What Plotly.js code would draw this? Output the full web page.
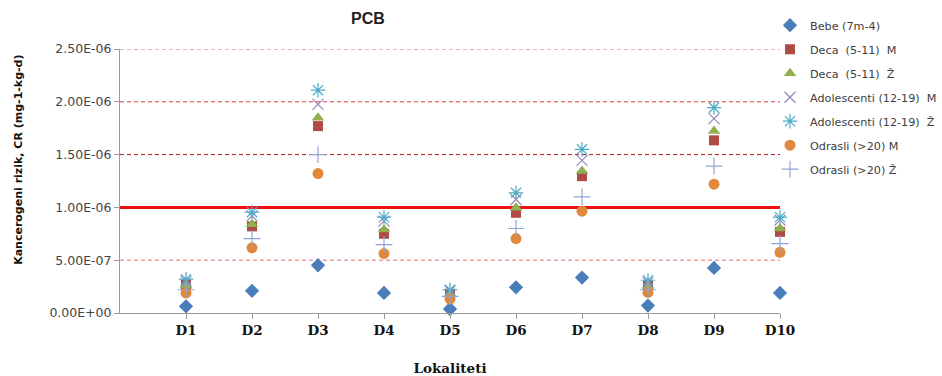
<!DOCTYPE html>
<html>
<head>
<meta charset="utf-8">
<script src="https://cdn.plot.ly/plotly-3.0.1.min.js"></script>
<style>html,body{margin:0;padding:0;background:#fff}#chart{width:942px;height:376px}</style>
</head>
<body>
<div id="chart"></div>
<script>
const positions = [1,2,3,4,5,6,7,8,9,10];
const locations = ["D1","D2","D3","D4","D5","D6","D7","D8","D9","D10"];
const bebe      = [0.063e-6,0.21e-6,0.452e-6,0.19e-6,0.038e-6,0.243e-6,0.335e-6,0.07e-6,0.427e-6,0.19e-6];
const decaM     = [0.27e-6,0.82e-6,1.77e-6,0.75e-6,0.183e-6,0.949e-6,1.296e-6,0.26e-6,1.635e-6,0.768e-6];
const decaZ     = [0.26e-6,0.84e-6,1.85e-6,0.79e-6,0.18e-6,0.996e-6,1.344e-6,0.25e-6,1.723e-6,0.80e-6];
const adolM     = [0.30e-6,0.92e-6,1.976e-6,0.87e-6,0.21e-6,1.075e-6,1.445e-6,0.29e-6,1.84e-6,0.88e-6];
const adolZ     = [0.32e-6,0.955e-6,2.11e-6,0.907e-6,0.221e-6,1.138e-6,1.55e-6,0.31e-6,1.945e-6,0.907e-6];
const odrM      = [0.19e-6,0.617e-6,1.32e-6,0.563e-6,0.133e-6,0.705e-6,0.964e-6,0.195e-6,1.22e-6,0.575e-6];
const odrZ      = [0.22e-6,0.705e-6,1.50e-6,0.648e-6,0.158e-6,0.80e-6,1.10e-6,0.22e-6,1.39e-6,0.657e-6];
const seriesNames = ["Bebe (7m-4)","Deca  (5-11)  M","Deca  (5-11)  Ž","Adolescenti (12-19)  M","Adolescenti (12-19)  Ž","Odrasli (>20) M","Odrasli (>20) Ž"];
const yTickVals = [0,0.5e-6,1.0e-6,1.5e-6,2.0e-6,2.5e-6];
const yTickText = ["0.00E+00","5.00E-07","1.00E-06","1.50E-06","2.00E-06","2.50E-06"];
const dashedLevels = [0.5e-6,1.5e-6,2.0e-6,2.5e-6];
const dashedColors = ["#E06A6A","#B01010","#D83A3A","#E06A6A"];
const threshold = 1.0e-6;

const styles = [
  {symbol:"diamond", color:"#4A7EBB", size:11},
  {symbol:"square", color:"#B04A47", size:10},
  {symbol:"triangle-up", color:"#8FB04E", size:11},
  {symbol:"x-thin-open", color:"#9A86B8", size:11, open:true},
  {symbol:"asterisk-open", color:"#4BACC6", size:12, open:true},
  {symbol:"circle", color:"#E0893A", size:11},
  {symbol:"cross-thin-open", color:"#8EA6D6", size:12, open:true}
];
const allSeries = [bebe,decaM,decaZ,adolM,adolZ,odrM,odrZ];
const traces = allSeries.map((ys,i)=>{
  const s = styles[i];
  const marker = {symbol:s.symbol, size:s.size, color:s.color};
  if (s.open) marker.line = {color:s.color, width:1.2};
  return {x:positions, y:ys, type:"scatter", mode:"markers", name:seriesNames[i],
          legendgroup:"g"+i, marker:marker, cliponaxis:false};
});

const shapes = dashedLevels.map((v,i)=>({type:"line", xref:"paper", x0:0, x1:1, yref:"y", y0:v, y1:v,
  line:{color:dashedColors[i], width:1, dash:"4px,3px"}, layer:"between"}));
shapes.push({type:"line", xref:"paper", x0:0, x1:1, yref:"y", y0:threshold, y1:threshold,
  line:{color:"#EE1111", width:3}, layer:"between"});

const layout = {
  width:942, height:376,
  margin:{l:120, r:162, t:49, b:63, autoexpand:false},
  paper_bgcolor:"#fff", plot_bgcolor:"#fff",
  title:{text:"<b>PCB</b>", x:368/942, xref:"container", xanchor:"center", y:0.965, yref:"container",
         font:{family:"Liberation Sans, Arial", size:16, color:"#222"}},
  showlegend:true,
  legend:{x:(770-120)/660, xanchor:"left", y:1.145, yanchor:"top", tracegroupgap:5,
          font:{family:"DejaVu Sans", size:11.2, color:"#404040"}, itemwidth:30, bgcolor:"rgba(0,0,0,0)"},
  xaxis:{range:[0,10], tickvals:positions, ticktext:locations, showgrid:false, zeroline:false,
         showline:true, linecolor:"#999", linewidth:1, ticks:"outside", ticklen:5, tickcolor:"#999",
         tickfont:{family:"DejaVu Serif", size:13.5, color:"#111", weight:"bold"},
         title:{text:"<b>Lokaliteti</b>", font:{family:"DejaVu Serif", size:13.5, color:"#111"}, standoff:26}},
  yaxis:{range:[0,2.5e-6], tickvals:yTickVals, ticktext:yTickText, showgrid:false, zeroline:false,
         showline:true, linecolor:"#999", linewidth:1, ticks:"outside", ticklen:5, tickcolor:"#999",
         tickfont:{family:"DejaVu Sans", size:12.5, color:"#444"}},
  annotations:[{text:"<b>Kancerogeni rizik, CR (mg-1-kg-d)</b>", textangle:-90, xref:"paper", yref:"paper",
         x:(19-120)/660, y:(313.3-160)/264.3, xanchor:"center", yanchor:"middle", showarrow:false,
         font:{family:"DejaVu Sans", size:11, color:"#111"}}],
  shapes:shapes
};
Plotly.newPlot("chart", traces, layout, {displayModeBar:false, staticPlot:true});
</script>
</body>
</html>
